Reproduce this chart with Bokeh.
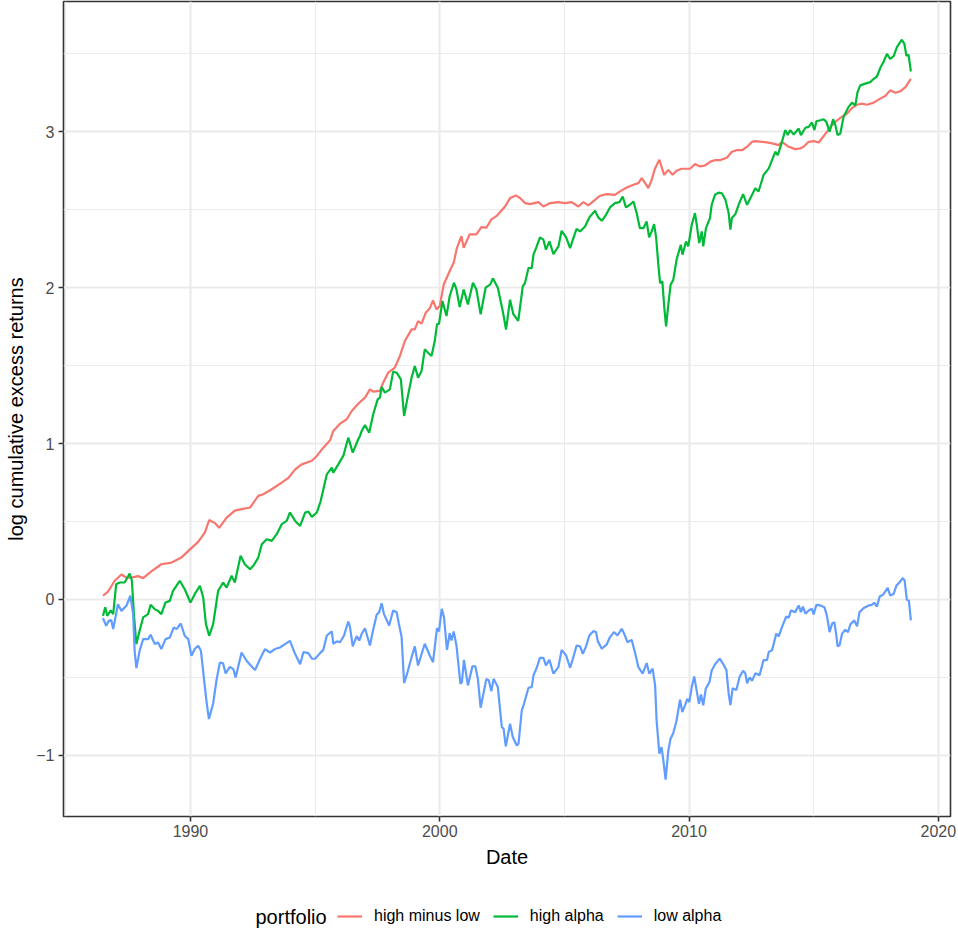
from bokeh.plotting import figure
from bokeh.layouts import column
from bokeh.models import (Range1d, FixedTicker, CustomJSTickFormatter, Legend,
                          LegendItem, Label)
from bokeh.embed import file_html
from bokeh.resources import INLINE

# Decimal-year dates and log cumulative excess returns for each portfolio
hml_date = [1986.49, 1986.69, 1986.96, 1987.23, 1987.43, 1987.63, 1987.90, 1988.10, 1988.43,
            1988.83, 1989.24, 1989.64, 1989.97, 1990.31, 1990.58, 1990.75, 1990.98, 1991.15,
            1991.45, 1991.78, 1992.05, 1992.39, 1992.72, 1992.92, 1993.26, 1993.66, 1993.93,
            1994.20, 1994.46, 1994.87, 1995.07, 1995.33, 1995.60, 1995.73, 1996.00, 1996.27,
            1996.47, 1996.73, 1997.00, 1997.20, 1997.33, 1997.60, 1997.73, 1997.93, 1998.20,
            1998.40, 1998.60, 1998.87, 1999.00, 1999.13, 1999.27, 1999.44, 1999.60, 1999.73,
            1999.87, 2000.00, 2000.16, 2000.40, 2000.56, 2000.69, 2000.87, 2000.96, 2001.20,
            2001.47, 2001.67, 2001.87, 2002.07, 2002.27, 2002.45, 2002.62, 2002.82, 2003.06,
            2003.22, 2003.42, 2003.62, 2003.96, 2004.16, 2004.43, 2004.76, 2005.03, 2005.29,
            2005.56, 2005.76, 2005.96, 2006.23, 2006.43, 2006.70, 2007.03, 2007.23, 2007.50,
            2007.77, 2007.97, 2008.10, 2008.24, 2008.37, 2008.50, 2008.64, 2008.81, 2009.00,
            2009.17, 2009.34, 2009.50, 2009.70, 2010.04, 2010.24, 2010.44, 2010.64, 2010.86,
            2011.06, 2011.26, 2011.52, 2011.72, 2011.93, 2012.13, 2012.33, 2012.53, 2012.66,
            2012.93, 2013.13, 2013.33, 2013.60, 2013.73, 2014.00, 2014.26, 2014.47, 2014.60,
            2014.80, 2015.00, 2015.20, 2015.33, 2015.53, 2015.74, 2015.87, 2016.07, 2016.34,
            2016.54, 2016.74, 2016.94, 2017.14, 2017.41, 2017.67, 2017.87, 2018.07, 2018.28,
            2018.48, 2018.68, 2018.90]
hml_value = [0.024, 0.050, 0.120, 0.160, 0.140, 0.140, 0.150, 0.137, 0.180,
             0.226, 0.237, 0.270, 0.320, 0.370, 0.430, 0.510, 0.490, 0.460,
             0.525, 0.570, 0.580, 0.590, 0.665, 0.675, 0.707, 0.750, 0.780,
             0.835, 0.867, 0.890, 0.921, 0.974, 1.021, 1.081, 1.128, 1.156,
             1.209, 1.256, 1.295, 1.348, 1.333, 1.338, 1.391, 1.455, 1.487,
             1.562, 1.658, 1.733, 1.733, 1.786, 1.769, 1.840, 1.868, 1.919,
             1.861, 1.882, 2.021, 2.107, 2.160, 2.256, 2.331, 2.256, 2.342,
             2.342, 2.389, 2.385, 2.438, 2.459, 2.490, 2.521, 2.575, 2.592,
             2.575, 2.543, 2.536, 2.549, 2.521, 2.543, 2.549, 2.543, 2.549,
             2.521, 2.549, 2.528, 2.564, 2.590, 2.600, 2.596, 2.618, 2.643,
             2.660, 2.671, 2.703, 2.671, 2.639, 2.692, 2.767, 2.821, 2.724,
             2.756, 2.724, 2.750, 2.763, 2.763, 2.793, 2.778, 2.784, 2.809,
             2.819, 2.819, 2.834, 2.872, 2.883, 2.883, 2.904, 2.936, 2.940,
             2.936, 2.932, 2.926, 2.915, 2.936, 2.904, 2.889, 2.894, 2.904,
             2.936, 2.940, 2.932, 2.957, 3.000, 3.043, 3.064, 3.089, 3.117,
             3.153, 3.174, 3.181, 3.174, 3.187, 3.213, 3.230, 3.266, 3.251,
             3.260, 3.287, 3.340]

high_date = [1986.49, 1986.58, 1986.66, 1986.80, 1986.90, 1987.02, 1987.16, 1987.36, 1987.56,
             1987.65, 1987.73, 1987.83, 1987.96, 1988.10, 1988.30, 1988.40, 1988.57, 1988.70,
             1988.83, 1989.00, 1989.17, 1989.30, 1989.57, 1989.77, 1990.00, 1990.17, 1990.38,
             1990.51, 1990.62, 1990.75, 1990.91, 1991.11, 1991.31, 1991.45, 1991.65, 1991.78,
             1992.01, 1992.18, 1992.39, 1992.52, 1992.72, 1992.86, 1993.06, 1993.26, 1993.46,
             1993.66, 1993.86, 1993.99, 1994.20, 1994.40, 1994.60, 1994.73, 1994.87, 1995.07,
             1995.22, 1995.47, 1995.67, 1995.73, 1995.93, 1996.13, 1996.33, 1996.51, 1996.73,
             1996.80, 1996.87, 1997.00, 1997.17, 1997.33, 1997.51, 1997.60, 1997.67, 1997.80,
             1998.00, 1998.13, 1998.27, 1998.44, 1998.57, 1998.71, 1998.87, 1999.00, 1999.13,
             1999.27, 1999.40, 1999.53, 1999.67, 1999.80, 1999.89, 1999.97, 2000.11, 2000.27,
             2000.40, 2000.57, 2000.67, 2000.80, 2000.96, 2001.13, 2001.33, 2001.47, 2001.64,
             2001.84, 2002.03, 2002.13, 2002.33, 2002.53, 2002.66, 2002.82, 2002.95, 2003.15,
             2003.33, 2003.42, 2003.56, 2003.69, 2003.76, 2003.89, 2004.02, 2004.16, 2004.26,
             2004.40, 2004.56, 2004.76, 2004.89, 2005.07, 2005.23, 2005.36, 2005.49, 2005.63,
             2005.83, 2006.00, 2006.23, 2006.36, 2006.50, 2006.67, 2006.83, 2007.03, 2007.21,
             2007.34, 2007.47, 2007.63, 2007.77, 2007.90, 2008.03, 2008.17, 2008.30, 2008.40,
             2008.50, 2008.60, 2008.68, 2008.77, 2008.84, 2008.93, 2009.01, 2009.08, 2009.17,
             2009.26, 2009.37, 2009.50, 2009.67, 2009.74, 2009.88, 2009.97, 2010.11, 2010.24,
             2010.31, 2010.41, 2010.51, 2010.57, 2010.68, 2010.84, 2010.91, 2011.04, 2011.19,
             2011.32, 2011.46, 2011.59, 2011.66, 2011.72, 2011.86, 2011.99, 2012.17, 2012.33,
             2012.46, 2012.66, 2012.79, 2012.99, 2013.20, 2013.33, 2013.46, 2013.56, 2013.73,
             2013.86, 2013.96, 2014.06, 2014.20, 2014.40, 2014.49, 2014.67, 2014.80, 2014.93,
             2015.03, 2015.11, 2015.27, 2015.40, 2015.51, 2015.64, 2015.78, 2015.87, 2015.96,
             2016.07, 2016.20, 2016.40, 2016.54, 2016.67, 2016.76, 2016.87, 2017.07, 2017.27,
             2017.41, 2017.54, 2017.67, 2017.81, 2017.94, 2018.07, 2018.21, 2018.34, 2018.54,
             2018.64, 2018.72, 2018.81, 2018.90]
high_value = [-0.105, -0.050, -0.105, -0.070, -0.094, 0.098, 0.109, 0.109, 0.167,
              0.120, -0.094, -0.286, -0.200, -0.115, -0.094, -0.034, -0.062, -0.073,
              -0.094, -0.019, -0.009, 0.056, 0.120, 0.066, -0.019, 0.034, 0.088,
              0.013, -0.158, -0.233, -0.158, 0.056, 0.109, 0.077, 0.152, 0.109,
              0.280, 0.226, 0.194, 0.216, 0.269, 0.355, 0.387, 0.376, 0.419,
              0.483, 0.504, 0.558, 0.504, 0.472, 0.558, 0.564, 0.530, 0.558,
              0.630, 0.803, 0.846, 0.814, 0.867, 0.921, 1.038, 0.942, 1.028,
              1.049, 1.081, 1.120, 1.070, 1.188, 1.284, 1.295, 1.363, 1.327,
              1.348, 1.462, 1.455, 1.412, 1.177, 1.295, 1.423, 1.498, 1.423,
              1.466, 1.605, 1.583, 1.562, 1.658, 1.765, 1.769, 1.915, 1.818,
              1.947, 2.032, 1.989, 1.876, 1.989, 1.893, 2.032, 1.989, 1.829,
              2.000, 2.021, 2.060, 2.000, 1.848, 1.731, 1.923, 1.831, 1.788,
              2.009, 2.030, 2.126, 2.126, 2.212, 2.265, 2.323, 2.308, 2.244,
              2.297, 2.216, 2.265, 2.365, 2.323, 2.254, 2.318, 2.378, 2.361,
              2.393, 2.451, 2.494, 2.451, 2.429, 2.468, 2.515, 2.543, 2.549,
              2.585, 2.515, 2.532, 2.553, 2.479, 2.382, 2.382, 2.425, 2.323,
              2.361, 2.408, 2.323, 2.147, 2.030, 2.041, 1.870, 1.752, 1.891,
              2.019, 2.051, 2.179, 2.276, 2.212, 2.297, 2.265, 2.404, 2.479,
              2.404, 2.286, 2.361, 2.265, 2.382, 2.447, 2.532, 2.596, 2.610,
              2.606, 2.564, 2.479, 2.372, 2.447, 2.472, 2.532, 2.600, 2.532,
              2.574, 2.638, 2.617, 2.723, 2.766, 2.819, 2.872, 2.851, 2.936,
              3.011, 2.979, 3.011, 2.983, 3.021, 2.979, 3.026, 3.032, 3.060,
              3.011, 3.068, 3.074, 3.081, 3.064, 3.000, 3.081, 3.043, 2.979,
              2.989, 3.096, 3.160, 3.187, 3.170, 3.255, 3.298, 3.309, 3.319,
              3.340, 3.355, 3.409, 3.451, 3.500, 3.468, 3.485, 3.543, 3.591,
              3.564, 3.489, 3.494, 3.387]

low_date = [1986.49, 1986.62, 1986.72, 1986.82, 1986.90, 1987.09, 1987.23, 1987.43, 1987.59,
            1987.70, 1987.76, 1987.83, 1987.96, 1988.10, 1988.30, 1988.40, 1988.57, 1988.70,
            1988.83, 1989.00, 1989.17, 1989.33, 1989.44, 1989.61, 1989.77, 1989.91, 1990.04,
            1990.17, 1990.31, 1990.42, 1990.55, 1990.64, 1990.74, 1990.91, 1991.05, 1991.18,
            1991.31, 1991.41, 1991.58, 1991.72, 1991.81, 1992.05, 1992.25, 1992.43, 1992.59,
            1992.79, 1992.99, 1993.19, 1993.39, 1993.59, 1993.79, 1993.99, 1994.20, 1994.40,
            1994.53, 1994.73, 1994.87, 1995.00, 1995.20, 1995.33, 1995.47, 1995.67, 1995.73,
            1995.87, 1996.00, 1996.16, 1996.33, 1996.40, 1996.51, 1996.67, 1996.77, 1996.87,
            1997.00, 1997.20, 1997.31, 1997.47, 1997.57, 1997.67, 1997.76, 1997.97, 1998.13,
            1998.27, 1998.36, 1998.47, 1998.57, 1998.69, 1998.87, 1999.00, 1999.13, 1999.40,
            1999.60, 1999.73, 1999.89, 1999.97, 2000.08, 2000.17, 2000.29, 2000.40, 2000.47,
            2000.56, 2000.67, 2000.83, 2000.89, 2000.97, 2001.13, 2001.31, 2001.43, 2001.53,
            2001.64, 2001.87, 2001.97, 2002.07, 2002.16, 2002.33, 2002.49, 2002.56, 2002.65,
            2002.82, 2002.93, 2003.09, 2003.16, 2003.29, 2003.38, 2003.56, 2003.69, 2003.76,
            2003.89, 2004.02, 2004.16, 2004.26, 2004.40, 2004.56, 2004.76, 2004.89, 2005.07,
            2005.23, 2005.36, 2005.49, 2005.63, 2005.74, 2005.87, 2006.00, 2006.16, 2006.27,
            2006.34, 2006.50, 2006.70, 2006.83, 2006.99, 2007.13, 2007.30, 2007.39, 2007.53,
            2007.70, 2007.83, 2007.97, 2008.14, 2008.30, 2008.41, 2008.54, 2008.64, 2008.70,
            2008.81, 2008.90, 2008.97, 2009.06, 2009.17, 2009.26, 2009.37, 2009.50, 2009.64,
            2009.73, 2009.84, 2009.93, 2010.01, 2010.11, 2010.21, 2010.31, 2010.40, 2010.48,
            2010.57, 2010.67, 2010.82, 2010.91, 2011.04, 2011.23, 2011.36, 2011.50, 2011.59,
            2011.66, 2011.75, 2011.90, 2012.03, 2012.17, 2012.26, 2012.33, 2012.43, 2012.53,
            2012.66, 2012.83, 2012.99, 2013.13, 2013.20, 2013.33, 2013.40, 2013.50, 2013.60,
            2013.73, 2013.90, 2014.00, 2014.09, 2014.26, 2014.40, 2014.49, 2014.57, 2014.67,
            2014.80, 2014.93, 2015.00, 2015.11, 2015.27, 2015.43, 2015.53, 2015.64, 2015.74,
            2015.83, 2015.91, 2015.96, 2016.04, 2016.14, 2016.27, 2016.38, 2016.47, 2016.63,
            2016.74, 2016.84, 2017.01, 2017.21, 2017.34, 2017.43, 2017.54, 2017.65, 2017.78,
            2017.87, 2017.97, 2018.07, 2018.21, 2018.32, 2018.45, 2018.58, 2018.65, 2018.74,
            2018.82, 2018.90]
low_value = [-0.120, -0.169, -0.137, -0.132, -0.190, -0.030, -0.073, -0.040, 0.024,
             -0.094, -0.329, -0.440, -0.329, -0.254, -0.254, -0.226, -0.286, -0.276,
             -0.318, -0.254, -0.244, -0.179, -0.190, -0.154, -0.233, -0.254, -0.361,
             -0.318, -0.297, -0.329, -0.521, -0.650, -0.767, -0.667, -0.511, -0.404,
             -0.410, -0.474, -0.432, -0.447, -0.500, -0.340, -0.393, -0.425, -0.453,
             -0.382, -0.318, -0.340, -0.318, -0.308, -0.286, -0.265, -0.350, -0.415,
             -0.338, -0.344, -0.380, -0.380, -0.344, -0.323, -0.231, -0.205, -0.284,
             -0.269, -0.274, -0.231, -0.141, -0.177, -0.301, -0.235, -0.263, -0.220,
             -0.184, -0.295, -0.209, -0.098, -0.081, -0.024, -0.092, -0.167, -0.071,
             -0.081, -0.156, -0.241, -0.536, -0.476, -0.370, -0.301, -0.423, -0.284,
             -0.359, -0.402, -0.184, -0.205, -0.060, -0.113, -0.323, -0.216, -0.263,
             -0.205, -0.295, -0.541, -0.530, -0.387, -0.551, -0.429, -0.429, -0.509,
             -0.694, -0.509, -0.519, -0.588, -0.509, -0.562, -0.818, -0.829, -0.942,
             -0.797, -0.882, -0.936, -0.925, -0.712, -0.669, -0.566, -0.562, -0.487,
             -0.438, -0.374, -0.374, -0.423, -0.387, -0.476, -0.434, -0.323, -0.359,
             -0.438, -0.370, -0.295, -0.301, -0.348, -0.301, -0.231, -0.203, -0.209,
             -0.267, -0.316, -0.288, -0.241, -0.209, -0.231, -0.188, -0.216, -0.274,
             -0.259, -0.338, -0.434, -0.476, -0.408, -0.476, -0.444, -0.551, -0.776,
             -0.989, -0.947, -1.032, -1.156, -0.968, -0.893, -0.857, -0.776, -0.643,
             -0.722, -0.679, -0.637, -0.658, -0.562, -0.494, -0.588, -0.669, -0.609,
             -0.679, -0.573, -0.530, -0.455, -0.417, -0.379, -0.411, -0.453, -0.602,
             -0.677, -0.570, -0.581, -0.496, -0.457, -0.474, -0.538, -0.500, -0.521,
             -0.474, -0.485, -0.389, -0.389, -0.336, -0.326, -0.283, -0.219, -0.236,
             -0.177, -0.109, -0.117, -0.070, -0.081, -0.038, -0.081, -0.045, -0.091,
             -0.070, -0.060, -0.096, -0.034, -0.038, -0.049, -0.102, -0.209, -0.155,
             -0.145, -0.230, -0.300, -0.294, -0.219, -0.194, -0.209, -0.160, -0.134,
             -0.172, -0.081, -0.055, -0.038, -0.034, -0.021, -0.045, 0.019, 0.030,
             0.051, 0.074, 0.026, 0.036, 0.089, 0.111, 0.138, 0.121, -0.002,
             -0.006, -0.134]

portfolios = ["high minus low", "high alpha", "low alpha"]
colors = ["#F8766D", "#00BA38", "#619CFF"]

x_major = [1990, 2000, 2010, 2020]
x_minor = [1985, 1995, 2005, 2015]
y_major = [-1, 0, 1, 2, 3]
y_minor = [-1.5, -0.5, 0.5, 1.5, 2.5, 3.5]

FONT = "Liberation Sans"
W = 958
MAIN_H = 890
KEY_H = 42

p = figure(width=W, height=MAIN_H, output_backend="svg", toolbar_location=None,
           x_range=Range1d(1984.906, 2020.49), y_range=Range1d(-1.392, 3.836),
           min_border_left=63, min_border_right=8, min_border_top=1,
           min_border_bottom=MAIN_H - 816, background_fill_color="white",
           border_fill_color="white", x_axis_label="Date",
           y_axis_label="log cumulative excess returns")
p.outline_line_color = "#333333"
p.outline_line_width = 1.6

xt = FixedTicker(ticks=x_major, minor_ticks=x_minor)
yt = FixedTicker(ticks=y_major, minor_ticks=y_minor)
p.xaxis.ticker = xt
p.yaxis.ticker = yt
p.xgrid.ticker = xt
p.ygrid.ticker = yt
p.xaxis.formatter = CustomJSTickFormatter(code="return tick.toFixed(0)")
p.yaxis.formatter = CustomJSTickFormatter(
    code="return tick < 0 ? '\u2212' + (-tick).toFixed(0) : tick.toFixed(0)")

for ax in (p.xaxis[0], p.yaxis[0]):
    ax.axis_line_color = None
    ax.major_tick_line_color = "#333333"
    ax.major_tick_line_width = 1.6
    ax.major_tick_out = 5
    ax.major_tick_in = 0
    ax.minor_tick_line_color = None
    ax.major_label_text_color = "#4D4D4D"
    ax.major_label_text_font = FONT
    ax.major_label_text_font_size = "16px"
    ax.axis_label_text_font = FONT
    ax.axis_label_text_font_size = "20px"
    ax.axis_label_text_font_style = "normal"
    ax.axis_label_text_color = "black"
p.xaxis.major_label_standoff = 3
p.yaxis.major_label_standoff = 4
p.xaxis.axis_label_standoff = 6
p.yaxis.axis_label_standoff = 6

for g in (p.xgrid[0], p.ygrid[0]):
    g.grid_line_color = "#EBEBEB"
    g.grid_line_width = 2.2
    g.minor_grid_line_color = "#EBEBEB"
    g.minor_grid_line_width = 1.1

series = [(hml_date, hml_value), (high_date, high_value), (low_date, low_value)]
for (xs, ys), c in zip(series, colors):
    p.line(xs, ys, line_color=c, line_width=2.2)

# Strip below the panel holding the horizontal legend with its title on the left.
# Its frame lines up with the main panel, so screen offsets start at the panel's left edge.
key = figure(width=W, height=KEY_H, output_backend="svg", toolbar_location=None,
             x_range=Range1d(0, 1), y_range=Range1d(0, 1),
             x_axis_location=None, y_axis_location=None,
             min_border_left=0, min_border_right=0, min_border_top=0, min_border_bottom=0,
             background_fill_color="white", border_fill_color="white")
key.outline_line_color = None
key.xgrid.visible = False
key.ygrid.visible = False
nan = float("nan")
key_lines = [key.line(x=[nan, nan], y=[nan, nan], line_color=c, line_width=2.2)
             for c in colors]

legend = Legend(items=[LegendItem(label=n, renderers=[r]) for n, r in zip(portfolios, key_lines)],
                orientation="horizontal", location=(274, 6), glyph_width=25,
                glyph_height=20, label_standoff=12, spacing=13, padding=0, margin=0,
                border_line_color=None, background_fill_alpha=0,
                label_text_font=FONT, label_text_font_size="16px",
                label_text_color="black")
key.add_layout(legend)
key.add_layout(Label(x=192, y=16, x_units="screen", y_units="screen", text="portfolio",
                     text_font=FONT, text_font_size="20px", text_baseline="middle",
                     text_align="left", text_color="black"))

open("out.html", "w").write(file_html(column(p, key, spacing=0), INLINE))
